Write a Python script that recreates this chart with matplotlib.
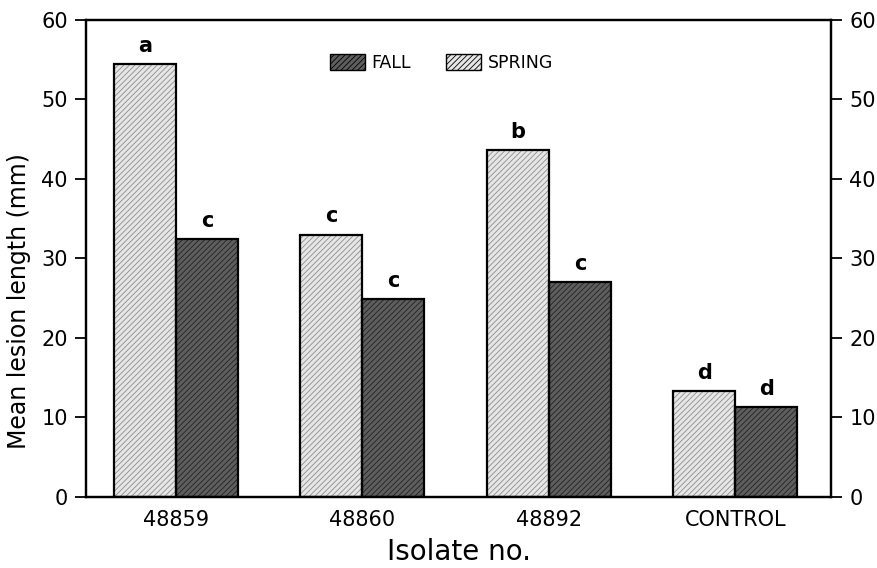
import numpy as np
import matplotlib
matplotlib.use('Agg')
import matplotlib.pyplot as plt
from matplotlib.patches import Patch

plt.rcParams['font.family'] = ['DejaVu Sans']
plt.rcParams['hatch.linewidth'] = 0.6

# dados
isolados = ['48859', '48860', '48892', 'CONTROL']
spring = [54.4, 33.0, 43.6, 13.3]
fall = [32.4, 24.9, 27.0, 11.3]
letras_spring = ['a', 'c', 'b', 'd']
letras_fall = ['c', 'c', 'c', 'd']

x = np.arange(len(isolados))
largura = 0.333

fig = plt.figure(figsize=(8.77, 5.68), dpi=100)
ax = fig.add_axes([0.098, 0.125, 0.85, 0.84])

# preenchimento com hachura
ax.bar(x - largura / 2, spring, largura, color='#e6e6e6', edgecolor='#8c8c8c',
       hatch='//////', linewidth=0)
ax.bar(x + largura / 2, fall, largura, color='#5e5e5e', edgecolor='#222222',
       hatch='//////', linewidth=0)
# contorno
ax.bar(x - largura / 2, spring, largura, fill=False, edgecolor='black', linewidth=1.6)
ax.bar(x + largura / 2, fall, largura, fill=False, edgecolor='black', linewidth=1.6)

for i in range(len(isolados)):
    ax.annotate(letras_spring[i], (x[i] - largura / 2, spring[i]), xytext=(0, 6),
                textcoords='offset points', ha='center', va='bottom',
                fontsize=15, fontweight='bold')
    ax.annotate(letras_fall[i], (x[i] + largura / 2, fall[i]), xytext=(0, 6),
                textcoords='offset points', ha='center', va='bottom',
                fontsize=15, fontweight='bold')

ax.set_xlim(-0.483, 3.516)
ax.set_ylim(0, 60)
ax.set_xticks(x)
ax.set_xticklabels(isolados)
ax.set_yticks(range(0, 61, 10))
ax.tick_params(axis='x', length=0, labelsize=15, pad=9)
ax.tick_params(axis='y', direction='out', length=8, width=1.3, labelsize=15, pad=5)
for s in ax.spines.values():
    s.set_linewidth(1.6)

ax.set_ylabel('Mean lesion length (mm)', fontsize=17)
ax.yaxis.set_label_coords(-0.074, 0.41)
ax.set_xlabel('Isolate no.', fontsize=20, labelpad=6)

ax2 = ax.twinx()
ax2.set_ylim(0, 60)
ax2.set_yticks(range(0, 61, 10))
ax2.tick_params(axis='y', direction='out', length=8, width=1.3, labelsize=15, pad=5)
for s in ax2.spines.values():
    s.set_linewidth(1.6)

handles = [Patch(facecolor='#5e5e5e', edgecolor='black', hatch='//////', label='FALL'),
           Patch(facecolor='#e6e6e6', edgecolor='black', hatch='//////', label='SPRING')]
ax2.legend(handles=handles, loc='center left', bbox_to_anchor=(0.3275, 0.91), ncol=2,
           frameon=False, fontsize=12.5, handlelength=2.0, handleheight=1.1,
           columnspacing=2.0, handletextpad=0.4, borderpad=0, borderaxespad=0)

plt.savefig('out.png', dpi=100)
